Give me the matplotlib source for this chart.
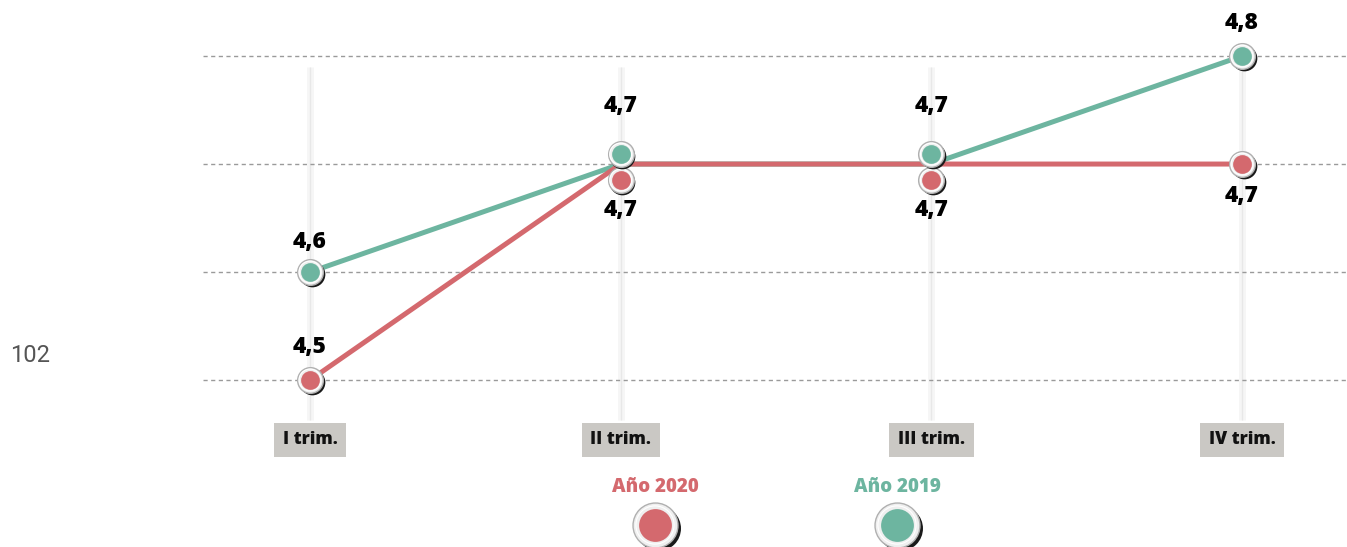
import numpy as np
import matplotlib.pyplot as plt
import matplotlib.transforms as mtransforms

plt.rcParams["font.family"] = ["Open Sans", "DejaVu Sans"]

# data
trimestres = ["I trim.", "II trim.", "III trim.", "IV trim."]
vals_2020 = [4.5, 4.7, 4.7, 4.7]
vals_2019 = [4.6, 4.7, 4.7, 4.8]
labels_2020 = ["4,5", "4,7", "4,7", "4,7"]
labels_2019 = ["4,6", "4,7", "4,7", "4,8"]
grid_vals = [4.5, 4.6, 4.7, 4.8]

RED = "#d4696e"
GREEN = "#6db5a0"
W, H = 1347, 547

fig = plt.figure(figsize=(W / 100, H / 100), dpi=100)
ax = fig.add_axes([0, 0, 1, 1])
ax.set_xlim(-0.998, 3.338)
ax.set_ylim(4.3454, 4.8519)
ax.axis("off")

x = np.arange(len(trimestres))

# dashed grid
for g in grid_vals:
    ax.plot([-0.344, 3.338], [g, g], color="#9a9a9a", lw=1.0,
            ls=(0, (3, 2.5)), zorder=1)

# faint vertical guides
for xi in x:
    ax.plot([xi, xi], [4.463, 4.79], color="#f6f6f6", lw=5, zorder=0.5,
            solid_capstyle="butt")
    ax.plot([xi, xi], [4.463, 4.79], color="#e8e8e8", lw=1.0, zorder=0.6,
            solid_capstyle="butt")

# lines
ax.plot(x, vals_2019, color=GREEN, lw=3.6, zorder=3, solid_capstyle="round")
ax.plot(x, vals_2020, color=RED, lw=3.6, zorder=3.5, solid_capstyle="round")


def marker(axis, trans, xx, yy, color, scale=1.0, z=5):
    ring = 18.5 * scale
    fill = 13.5 * scale
    sh = mtransforms.offset_copy(trans, fig=fig, x=1.6 * scale, y=-1.8 * scale, units="dots")
    axis.scatter([xx], [yy], s=ring ** 2, color="#1a1a1a", transform=sh, zorder=z, lw=0)
    axis.scatter([xx], [yy], s=ring ** 2, facecolor="#efefef", edgecolor="#b0b0b0",
                 lw=1.0, transform=trans, zorder=z + 0.1)
    axis.scatter([xx], [yy], s=(ring * 0.85) ** 2, facecolor="none", edgecolor="white",
                 lw=0.8, transform=trans, zorder=z + 0.2)
    axis.scatter([xx], [yy], s=fill ** 2, color=color, lw=0, transform=trans, zorder=z + 0.3)


# marker offsets (px) to separate overlapping points
off_2019 = [0, 10, 10, 0]
off_2020 = [0, -16, -16, 0]
lab_2019 = [30, 58, 58, 33]
lab_2020 = [33, -46, -46, -32]

for i in x:
    t = mtransforms.offset_copy(ax.transData, fig=fig, x=0, y=off_2019[i], units="dots")
    marker(ax, t, i, vals_2019[i], GREEN, z=6)
    t = mtransforms.offset_copy(ax.transData, fig=fig, x=0, y=off_2020[i], units="dots")
    marker(ax, t, i, vals_2020[i], RED, z=5)
    ax.annotate(labels_2019[i], (i, vals_2019[i]), xytext=(0, lab_2019[i] / 1.389),
                textcoords="offset points", ha="center", va="center",
                fontsize=16.5, fontweight=800, color="black", zorder=10)
    ax.annotate(labels_2020[i], (i, vals_2020[i]), xytext=(0, lab_2020[i] / 1.389),
                textcoords="offset points", ha="center", va="center",
                fontsize=16.5, fontweight=800, color="black", zorder=10)

# category boxes
for i, lab in enumerate(trimestres):
    ax.text(i, 4.4445, lab, ha="center", va="center", fontsize=12.5,
            fontweight=800, color="#111111",
            bbox=dict(boxstyle="square,pad=0.5", facecolor="#cac8c4", edgecolor="none"))

# legend
leg = [("Año 2020", RED, 655), ("Año 2019", GREEN, 897)]
for txt, col, px in leg:
    fig.text(px / W, 1 - 487 / H, txt, ha="center", va="center", fontsize=13.5,
             fontweight=800, color=col)
    marker(ax, fig.transFigure, px / W, 1 - 525 / H, col, scale=1.75, z=5)

# page number
fig.text(30 / W, 1 - 355 / H, "102", ha="center", va="center", fontsize=17,
         color="#555555", family=["Roboto", "DejaVu Sans"])

fig.savefig("out.png", dpi=100)
